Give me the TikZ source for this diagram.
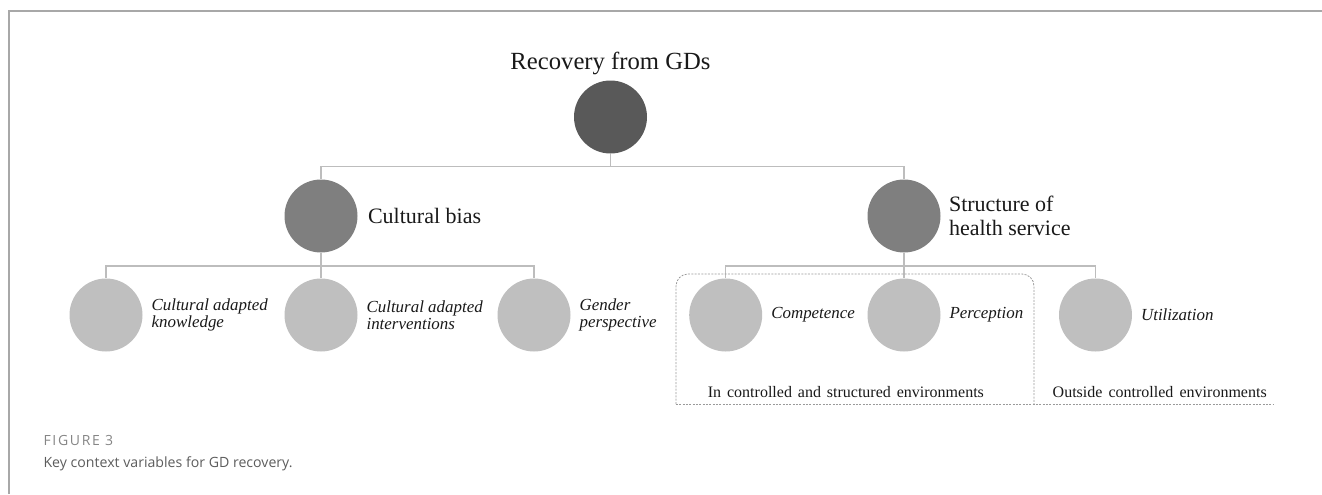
\documentclass[tikz,border=0pt]{standalone}
\usepackage{fontspec}
\setmainfont{Liberation Serif}
\newfontfamily\capfont{Open Sans}
\usetikzlibrary{positioning}
\definecolor{rootgray}{HTML}{595959}
\definecolor{midgray}{HTML}{7F7F7F}
\definecolor{leafgray}{HTML}{BFBFBF}
\definecolor{conngray}{HTML}{BDBDBD}
\definecolor{grpgray}{HTML}{9A9A9A}
\definecolor{framegray}{HTML}{A8A8A8}
\definecolor{capgray}{HTML}{858585}
\definecolor{captext}{HTML}{5C5C5C}

\begin{document}
\begin{tikzpicture}[x=.75pt,y=-.75pt,
  ball/.style={circle,inner sep=0pt,minimum size=54.75pt},
  rootball/.style={ball,fill=rootgray},
  midball/.style={ball,fill=midgray},
  leafball/.style={ball,fill=leafgray},
  conn/.style={draw=conngray,line width=.9pt},
  lbl/.style={inner sep=0pt,anchor=west,text=black!90,align=left},
  midlbl/.style={lbl,font=\fontsize{16.5}{18}\selectfont},
  leaflbl/.style={lbl,font=\fontsize{12.7}{12.7}\selectfont\itshape},
  grp/.style={draw=grpgray,line width=.6pt,dash pattern=on 1.5pt off 1pt}]
  \useasboundingbox (0,0) rectangle (1322,494);
  % frame
  \draw[framegray,line width=1pt] (9,494) -- (9,11) -- (1322,11);
  % tree
  \node[rootball] (root) at (610.5,117) {};
  \node[inner sep=0pt,above=4pt of root,text=black!90,font=\fontsize{18.5}{20}\selectfont] (rootlbl) {Recovery from GDs};
  \node[midball] (cb) at (321,216) {};
  \node[midball] (sh) at (904,216) {};
  \node[midlbl,right=7.5pt of cb] (cblbl) {Cultural bias};
  \node[midlbl,right=6pt of sh] (shlbl) {Structure of\\health service};
  \foreach \n/\x/\t in {ck/106/{Cultural adapted\\knowledge},ci/321/{Cultural adapted\\interventions},gp/534/{Gender\\perspective},co/725.7/Competence,pe/904/Perception,ut/1095.5/Utilization}{
    \node[leafball] (\n) at (\x,315) {};
    \node[leaflbl,right=6.4pt of \n] (\n lbl) {\t};
  }
  % connectors
  \draw[conn] (root.south) -- ++(0,12.7) coordinate (j0);
  \draw[conn] (j0) -| (cb.north);
  \draw[conn] (j0) -| (sh.north);
  \draw[conn] (cb.south) -- ++(0,13.3) coordinate (j1);
  \draw[conn] (j1) -| (ck.north);
  \draw[conn] (j1) -- (ci.north);
  \draw[conn] (j1) -| (gp.north);
  \draw[conn] (sh.south) -- ++(0,13.3) coordinate (j2);
  \draw[conn] (j2) -| (co.north);
  \draw[conn] (j2) -- (pe.north);
  \draw[conn] (j2) -| (ut.north);
  % settings
  \draw[grp,rounded corners=9pt] (676,404) -- (676,274) -- (1034,274) -- (1034,404);
  \draw[grp] (676,404) -- (1273,404);
  \node[anchor=base,inner sep=0pt,text=black!90,font=\fontsize{12}{12}\selectfont] (inctl) at (845.9,397) {\makebox[207pt][s]{In controlled and structured environments}};
  \node[anchor=base,inner sep=0pt,text=black!90,font=\fontsize{12}{12}\selectfont] (outctl) at (1159.7,397) {\makebox[160.5pt][s]{Outside controlled environments}};
  % caption
  \node[anchor=base west,inner sep=0pt,text=capgray,font=\capfont\addfontfeature{LetterSpace=12}\fontsize{10.5}{12}\selectfont] (fig) at (43.3,445) {FIGURE 3};
  \node[anchor=base west,inner sep=0pt,text=captext,font=\capfont\fontsize{10.6}{12}\selectfont] (cap) at (43.3,467) {Key context variables for GD recovery.};
\end{tikzpicture}
\end{document}
